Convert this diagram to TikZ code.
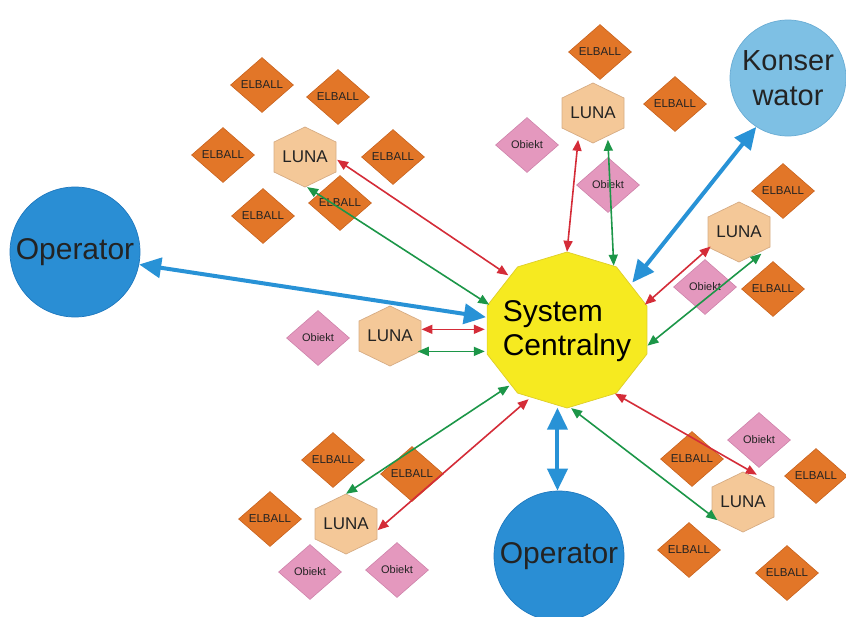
\documentclass[tikz,border=0pt]{standalone}
\usepackage{fontspec}
\setmainfont{Liberation Sans}
\usetikzlibrary{shapes.geometric,arrows.meta}

\definecolor{opblue}{RGB}{42,142,212}
\definecolor{opedge}{RGB}{30,120,190}
\definecolor{konsblue}{RGB}{126,192,228}
\definecolor{konsedge}{RGB}{105,172,212}
\definecolor{sysyellow}{RGB}{246,234,32}
\definecolor{sysedge}{RGB}{222,206,40}
\definecolor{lunafill}{RGB}{244,200,152}
\definecolor{lunaedge}{RGB}{214,172,132}
\definecolor{elfill}{RGB}{226,118,40}
\definecolor{eledge}{RGB}{200,98,30}
\definecolor{obfill}{RGB}{228,152,190}
\definecolor{obedge}{RGB}{206,130,170}
\definecolor{redarr}{RGB}{212,44,56}
\definecolor{greenarr}{RGB}{28,150,72}
\definecolor{bluearr}{RGB}{40,146,214}
\definecolor{txt}{RGB}{35,35,35}

\tikzset{
  elball/.style={shape=diamond, minimum width=63pt, minimum height=55pt, inner sep=0pt,
    fill=elfill, draw=eledge, line width=0.6pt, text=txt, font=\fontsize{11.5}{13}\selectfont},
  obiekt/.style={shape=diamond, minimum width=63pt, minimum height=55pt, inner sep=0pt,
    fill=obfill, draw=obedge, line width=0.6pt, text=txt, font=\fontsize{11}{13}\selectfont},
  lunashape/.style={fill=lunafill, draw=lunaedge, line width=0.7pt},
  lunanode/.style={shape=ellipse, minimum width=62pt, minimum height=60pt, inner sep=0pt,
    text=txt, font=\fontsize{17}{19}\selectfont},
  sysshape/.style={fill=sysyellow, draw=sysedge, line width=0.7pt},
  sysnode/.style={shape=ellipse, minimum width=164pt, minimum height=156pt, inner sep=0pt},
  systext/.style={inner sep=0pt, text=black, align=left, font=\fontsize{30}{34}\selectfont},
  opcircle/.style={shape=circle, minimum size=130pt, inner sep=0pt, fill=opblue, draw=opedge,
    line width=0.7pt, text=txt, font=\fontsize{30}{34}\selectfont},
  konscircle/.style={shape=circle, minimum size=116pt, inner sep=0pt, fill=konsblue, draw=konsedge,
    line width=0.7pt, text=txt, align=center, font=\fontsize{29}{35}\selectfont},
  link/.style={line width=1.6pt, {Triangle[length=11pt,width=9pt]}-{Triangle[length=11pt,width=9pt]}},
  redlink/.style={link, draw=redarr},
  greenlink/.style={link, draw=greenarr},
  bluelink/.style={line width=4pt, draw=bluearr, {Triangle[length=22pt,width=20pt]}-{Triangle[length=22pt,width=20pt]}}
}

\newcommand\lunahex[2]{%
  \path[lunashape, shift={(#2)}] (0,-30) -- (31,-15) -- (31,15) -- (0,30) -- (-31,15) -- (-31,-15) -- cycle;
  \node[lunanode] (#1) at (#2) {LUNA};}

\begin{document}
\begin{tikzpicture}[x=1pt,y=-1pt]
\useasboundingbox (0,0) rectangle (846,616);
\clip (0,0) rectangle (846,616);

% ELBALL diamonds
\node[elball] (e1) at (262,85) {ELBALL};
\node[elball] (e2) at (338,97) {ELBALL};
\node[elball] (e3) at (223,155) {ELBALL};
\node[elball] (e4) at (393,157) {ELBALL};
\node[elball] (e5) at (340,203) {ELBALL};
\node[elball] (e6) at (263,216) {ELBALL};
\node[elball] (e7) at (600,52) {ELBALL};
\node[elball] (e8) at (675,104) {ELBALL};
\node[elball] (e9) at (783,191) {ELBALL};
\node[elball] (e10) at (773,289) {ELBALL};
\node[elball] (e11) at (333,460) {ELBALL};
\node[elball] (e12) at (412,474) {ELBALL};
\node[elball] (e13) at (270,519) {ELBALL};
\node[elball] (e14) at (692,459) {ELBALL};
\node[elball] (e15) at (816,476) {ELBALL};
\node[elball] (e16) at (689,550) {ELBALL};
\node[elball] (e17) at (787,573) {ELBALL};

% Obiekt diamonds
\node[obiekt] (o1) at (527,145) {Obiekt};
\node[obiekt] (o2) at (608,185) {Obiekt};
\node[obiekt] (o3) at (705,287) {Obiekt};
\node[obiekt] (o4) at (318,338) {Obiekt};
\node[obiekt] (o5) at (310,572) {Obiekt};
\node[obiekt] (o6) at (397,570) {Obiekt};
\node[obiekt] (o7) at (759,440) {Obiekt};

% LUNA hexagons
\lunahex{l1}{305,157}
\lunahex{l2}{593,113}
\lunahex{l3}{739,232}
\lunahex{l4}{390,336}
\lunahex{l5}{346,524}
\lunahex{l6}{743,502}

% System Centralny
\path[sysshape] (567,252) -- (517.6,266.9) -- (487.1,305.9) -- (487.1,354.1) -- (517.6,393.1)
  -- (567,408) -- (616.4,393.1) -- (646.9,354.1) -- (646.9,305.9) -- (616.4,266.9) -- cycle;
\node[sysnode] (sys) at (567,330) {};
\node[systext] (systxt) at (567,331) {System\\Centralny};

% Operators and Konserwator
\node[opcircle] (opl) at (75,252) {Operator};
\node[opcircle] (opb) at (559,556) {Operator};
\node[konscircle] (kons) at (788,78) {Konser\\wator};

% connectors
\draw[redlink] (l1.-5) -- (sys.137);
\draw[greenlink] (l1.-86) -- (sys.162);
\draw[redlink] (l2.-119) -- (sys.90);
\draw[greenlink] (l2.-61) -- (sys.54);
\draw[bluelink] (kons.-123) -- (sys.36);
\draw[redlink] (l3.-153) -- (sys.18);
\draw[greenlink] (l3.-44) -- (sys.-11);
\draw[redlink] (l4.12) -- (l4.12 -| sys.west);
\draw[greenlink] (l4.-29) -- (l4.-29 -| sys.west);
\draw[bluelink] (opl.-11) -- (sys.171);
\draw[greenlink] (l5.90) -- (sys.-136);
\draw[redlink] (l5.-11) -- (sys.-119);
\draw[bluelink] (sys.-97) -- (sys.-97 |- opb.north);
\draw[redlink] (l6.63) -- (sys.-53);
\draw[greenlink] (l6.-145) -- (sys.-87);
\end{tikzpicture}
\end{document}
